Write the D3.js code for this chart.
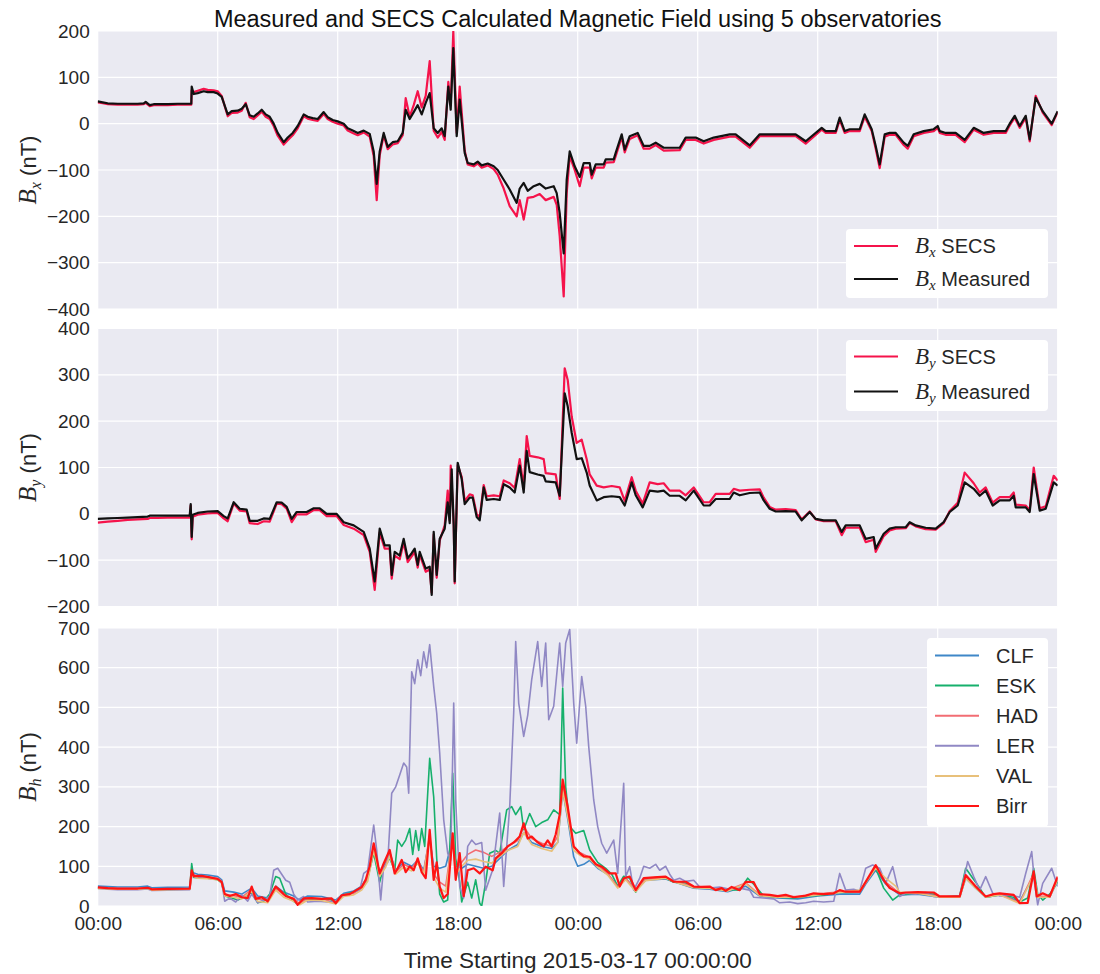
<!DOCTYPE html>
<html>
<head>
<meta charset="utf-8">
<script src="https://cdn.jsdelivr.net/npm/d3@7"></script>
<style>
  body { margin: 0; background: #fff; }
  text { font-family: "Liberation Sans", Arial, sans-serif; fill: #262626; }
</style>
</head>
<body>
<div id="plot"></div>
<script>
// [hour since 2015-03-17 00:00, nT]
let bxSecs = [[0,46],[0.25,44],[0.5,42],[1,41],[1.5,41],[2,41],[2.3,42],[2.4,45],[2.6,38],[2.8,40],[3.5,40],[4,41],[4.68,41],[4.7,72],[4.8,68],[5.0,71],[5.3,75],[5.5,73],[5.8,72],[6.0,70],[6.2,60],[6.5,16],[6.7,23],[7.0,24],[7.2,28],[7.4,45],[7.6,14],[7.8,10],[8.0,18],[8.2,26],[8.4,15],[8.6,10],[8.8,-5],[9.0,-26],[9.3,-45],[9.5,-36],[9.75,-25],[10.0,-10],[10.3,16],[10.5,11],[10.75,8],[11.0,6],[11.3,21],[11.5,10],[11.75,4],[12.0,0],[12.3,-4],[12.5,-15],[12.75,-20],[13.0,-25],[13.3,-19],[13.6,-28],[13.8,-70],[13.95,-165],[14.1,-68],[14.3,-25],[14.5,-55],[14.75,-45],[15.0,-42],[15.25,-25],[15.4,55],[15.6,15],[15.8,40],[16.0,70],[16.2,35],[16.4,60],[16.6,135],[16.8,-15],[17.0,-30],[17.2,-18],[17.35,-35],[17.53,90],[17.65,40],[17.78,199],[17.95,-20],[18.1,80],[18.35,-58],[18.5,-88],[18.8,-92],[19.0,-86],[19.2,-95],[19.5,-90],[19.8,-98],[20.0,-110],[20.3,-140],[20.6,-178],[20.95,-200],[21.1,-165],[21.3,-207],[21.5,-160],[21.8,-158],[22.1,-152],[22.4,-165],[22.8,-158],[22.95,-175],[23.1,-243],[23.3,-373],[23.45,-150],[23.6,-70],[23.85,-100],[24.1,-135],[24.3,-95],[24.6,-95],[24.7,-118],[24.9,-95],[25.3,-95],[25.4,-84],[25.8,-83],[25.9,-70],[26.2,-29],[26.35,-62],[26.6,-33],[27.0,-25],[27.3,-54],[27.6,-54],[27.9,-46],[28.3,-58],[29.1,-57],[29.4,-35],[29.9,-35],[30.3,-43],[30.8,-35],[31.6,-28],[31.9,-28],[32.6,-52],[33.1,-27],[34.4,-27],[34.9,-27],[35.4,-43],[36.2,-13],[36.4,-20],[36.9,-20],[37.1,8],[37.35,-20],[37.6,-16],[38.1,-16],[38.35,15],[38.7,-16],[38.9,-54],[39.1,-96],[39.35,-28],[39.6,-24],[39.9,-24],[40.3,-46],[40.5,-54],[40.8,-27],[41.3,-20],[41.8,-16],[42.0,-9],[42.1,-20],[42.4,-24],[42.9,-24],[43.35,-40],[43.8,-13],[44.3,-24],[44.8,-20],[45.4,-20],[45.6,-4],[45.85,13],[46.1,-9],[46.4,13],[46.6,-38],[46.9,60],[47.25,24],[47.7,-3],[48,25]]

let bxMeas = [[0,48],[0.25,46],[0.5,44],[1,43],[1.5,43],[2,43],[2.3,44],[2.4,47],[2.6,40],[2.8,42],[3.5,42],[4,43],[4.68,43],[4.7,80],[4.8,64],[5.0,66],[5.3,70],[5.5,68],[5.8,68],[6.0,65],[6.2,58],[6.5,20],[6.7,27],[7.0,28],[7.2,32],[7.4,42],[7.6,18],[7.8,15],[8.0,22],[8.2,30],[8.4,20],[8.6,15],[8.8,0],[9.0,-20],[9.3,-40],[9.5,-30],[9.75,-20],[10.0,-5],[10.3,20],[10.5,15],[10.75,12],[11.0,10],[11.3,25],[11.5,14],[11.75,8],[12.0,5],[12.3,0],[12.5,-10],[12.75,-15],[13.0,-20],[13.3,-15],[13.6,-22],[13.8,-60],[13.95,-130],[14.1,-60],[14.3,-20],[14.5,-50],[14.75,-40],[15.0,-38],[15.25,-20],[15.4,30],[15.6,10],[15.8,25],[16.0,40],[16.2,20],[16.4,45],[16.6,66],[16.8,-10],[17.0,-20],[17.2,-10],[17.35,-27],[17.53,80],[17.65,30],[17.78,163],[17.95,-27],[18.1,52],[18.35,-63],[18.5,-85],[18.8,-88],[19.0,-82],[19.2,-90],[19.5,-86],[19.8,-92],[20.0,-100],[20.3,-121],[20.6,-142],[20.95,-171],[21.1,-140],[21.3,-128],[21.5,-145],[21.8,-135],[22.1,-130],[22.4,-140],[22.8,-135],[22.95,-150],[23.1,-193],[23.3,-280],[23.45,-121],[23.6,-60],[23.85,-92],[24.1,-115],[24.3,-85],[24.6,-85],[24.7,-110],[24.9,-88],[25.3,-88],[25.4,-77],[25.8,-77],[25.9,-63],[26.2,-23],[26.35,-56],[26.6,-27],[27.0,-20],[27.3,-48],[27.6,-48],[27.9,-41],[28.3,-52],[29.1,-52],[29.4,-30],[29.9,-30],[30.3,-38],[30.8,-30],[31.6,-23],[31.9,-23],[32.6,-47],[33.1,-23],[34.4,-23],[34.9,-23],[35.4,-38],[36.2,-9],[36.4,-16],[36.9,-16],[37.1,13],[37.35,-16],[37.6,-12],[38.1,-12],[38.35,20],[38.7,-12],[38.9,-48],[39.1,-88],[39.35,-23],[39.6,-20],[39.9,-20],[40.3,-41],[40.5,-48],[40.8,-23],[41.3,-16],[41.8,-12],[42.0,-5],[42.1,-16],[42.4,-20],[42.9,-20],[43.35,-35],[43.8,-9],[44.3,-20],[44.8,-16],[45.4,-16],[45.6,0],[45.85,17],[46.1,-5],[46.4,17],[46.6,-34],[46.9,56],[47.25,27],[47.7,0],[48,27]]

let bySecs = [[0,-19],[0.5,-17],[1,-15],[1.5,-13],[2,-12],[2.5,-11],[2.6,-9],[3,-9],[3.5,-8],[4,-8],[4.6,-8],[4.65,18],[4.7,-55],[4.75,-6],[5,-2],[5.5,1],[6,2],[6.3,-10],[6.5,-16],[6.8,22],[7.1,7],[7.45,5],[7.6,-20],[8,-22],[8.3,-16],[8.6,-17],[8.95,22],[9.2,21],[9.45,11],[9.7,-18],[9.95,-1],[10.45,-1],[10.8,8],[11.1,8],[11.45,-5],[11.95,-5],[12.3,-24],[12.8,-32],[13.3,-46],[13.6,-82],[13.85,-164],[14.1,-40],[14.35,-75],[14.6,-75],[14.7,-140],[14.85,-90],[15.1,-98],[15.3,-62],[15.5,-104],[15.7,-92],[15.85,-82],[16.0,-116],[16.1,-88],[16.4,-125],[16.6,-120],[16.7,-170],[16.8,-45],[16.95,-138],[17.1,-58],[17.35,-25],[17.5,50],[17.6,-15],[17.65,104],[17.8,-20],[17.85,-150],[18.0,105],[18.2,80],[18.35,28],[18.6,42],[18.75,40],[18.95,0],[19.1,-8],[19.3,62],[19.45,38],[19.8,40],[20.1,38],[20.3,72],[20.6,66],[20.85,56],[21.1,118],[21.3,58],[21.45,168],[21.6,125],[22.0,122],[22.3,118],[22.4,88],[22.9,85],[23.1,32],[23.35,314],[23.5,289],[23.7,210],[23.95,153],[24.2,160],[24.45,118],[24.6,85],[24.95,61],[25.3,57],[25.7,60],[26.1,57],[26.35,28],[26.7,79],[26.9,50],[27.25,22],[27.6,68],[28.0,64],[28.3,66],[28.6,50],[29.1,50],[29.4,40],[29.8,57],[30.3,25],[30.6,25],[30.9,43],[31.6,43],[31.8,54],[32.1,50],[32.6,52],[33.1,53],[33.3,35],[33.6,15],[33.9,9],[34.4,10],[34.9,8],[35.2,-12],[35.6,5],[35.9,-12],[36.3,-16],[36.9,-16],[37.2,-46],[37.4,-30],[38.1,-30],[38.4,-61],[38.8,-56],[38.9,-82],[39.3,-48],[39.6,-36],[39.9,-32],[40.4,-31],[40.6,-20],[40.9,-27],[41.4,-33],[41.9,-34],[42.3,-20],[42.6,6],[43.0,24],[43.35,89],[43.8,66],[44.1,46],[44.4,57],[44.75,24],[45.1,36],[45.6,36],[45.8,46],[45.9,20],[46.4,18],[46.6,8],[46.8,100],[47.1,12],[47.4,16],[47.8,82],[48,72]]

let byMeas = [[0,-11],[0.5,-10],[1,-9],[1.5,-8],[2,-7],[2.5,-6],[2.6,-4],[3,-4],[3.5,-4],[4,-4],[4.6,-4],[4.65,21],[4.7,-50],[4.75,-2],[5,2],[5.5,5],[6,6],[6.3,-5],[6.5,-10],[6.8,25],[7.1,11],[7.45,9],[7.6,-15],[8,-15],[8.3,-10],[8.6,-11],[8.95,25],[9.2,24],[9.45,15],[9.7,-11],[9.95,4],[10.45,4],[10.8,12],[11.1,12],[11.45,0],[11.95,0],[12.3,-18],[12.8,-25],[13.3,-39],[13.6,-75],[13.85,-146],[14.1,-32],[14.35,-68],[14.6,-68],[14.7,-132],[14.85,-82],[15.1,-90],[15.3,-54],[15.5,-96],[15.7,-85],[15.85,-75],[16.0,-110],[16.1,-82],[16.4,-118],[16.6,-114],[16.7,-175],[16.8,-39],[16.95,-132],[17.1,-54],[17.35,-32],[17.5,25],[17.6,-20],[17.7,96],[17.8,-25],[17.85,-146],[18.0,110],[18.2,75],[18.35,21],[18.6,35],[18.75,35],[18.95,-7],[19.1,-14],[19.3,57],[19.45,30],[19.8,32],[20.1,30],[20.3,64],[20.6,57],[20.85,46],[21.1,104],[21.3,46],[21.45,136],[21.6,90],[22.0,85],[22.3,82],[22.4,70],[22.9,68],[23.1,39],[23.35,260],[23.5,232],[23.7,175],[23.95,118],[24.2,120],[24.45,89],[24.6,61],[24.95,29],[25.3,36],[25.7,38],[26.1,36],[26.35,18],[26.7,68],[26.9,40],[27.25,14],[27.6,50],[28.0,48],[28.3,50],[28.6,39],[29.1,39],[29.4,29],[29.8,50],[30.3,18],[30.6,18],[30.9,32],[31.6,32],[31.8,46],[32.1,40],[32.6,45],[33.1,46],[33.3,29],[33.6,11],[33.9,5],[34.4,6],[34.9,5],[35.2,-14],[35.6,4],[35.9,-11],[36.3,-14],[36.9,-14],[37.2,-39],[37.4,-25],[38.1,-25],[38.4,-54],[38.8,-50],[38.9,-75],[39.3,-43],[39.6,-32],[39.9,-29],[40.4,-29],[40.6,-18],[40.9,-25],[41.4,-30],[41.9,-32],[42.3,-18],[42.6,4],[43.0,18],[43.35,68],[43.8,54],[44.1,39],[44.4,50],[44.75,18],[45.1,29],[45.6,29],[45.8,39],[45.9,14],[46.4,14],[46.6,4],[46.8,86],[47.1,7],[47.4,11],[47.8,68],[48,61]]

let clf = [[0,50],[1,48],[2,48],[2.5,50],[2.7,46],[3.5,47],[4.6,48],[4.7,85],[5.0,80],[5.5,78],[6.0,74],[6.2,66],[6.35,38],[6.8,35],[7.2,30],[7.7,45],[8.0,25],[8.5,20],[8.9,50],[9.3,35],[9.8,25],[10.1,15],[10.5,25],[11.2,24],[11.9,15],[12.3,32],[12.8,38],[13.2,50],[13.5,75],[13.8,140],[14.1,85],[14.4,110],[14.6,135],[14.9,90],[15.3,110],[15.7,100],[16.0,115],[16.3,90],[16.6,170],[16.8,100],[17.1,95],[17.4,100],[17.75,170],[17.9,100],[18.2,95],[18.5,105],[18.9,100],[19.3,95],[19.7,100],[20.1,120],[20.5,140],[21.0,155],[21.3,185],[21.7,160],[22.2,150],[22.7,145],[23.0,160],[23.25,290],[23.5,220],[23.8,124],[24.0,100],[24.3,105],[24.6,115],[25.0,95],[25.5,80],[26.0,50],[26.4,70],[26.9,40],[27.4,65],[28.4,68],[29.0,58],[29.8,45],[30.6,42],[31.5,36],[32.4,50],[33.1,25],[34.0,20],[35.0,18],[36.0,25],[37.1,30],[38.1,30],[38.4,55],[38.9,90],[39.4,55],[40.1,28],[41.0,30],[42.1,22],[43.1,22],[43.4,70],[43.9,45],[44.4,22],[45.1,28],[46.1,12],[46.8,75],[47.0,22],[47.6,22],[48,65]]

let esk = [[0,46],[1,43],[2,43],[2.5,45],[2.7,41],[3.5,42],[4.6,43],[4.7,107],[4.8,72],[5.5,70],[6.0,66],[6.2,58],[6.35,25],[6.7,20],[7.0,15],[7.3,22],[7.7,35],[8.0,8],[8.3,12],[8.6,30],[8.9,74],[9.1,70],[9.4,30],[9.8,12],[10.0,5],[10.4,18],[11.0,17],[11.6,18],[11.9,6],[12.3,28],[12.8,35],[13.2,45],[13.5,70],[13.8,133],[14.1,60],[14.3,100],[14.6,120],[14.85,90],[15.0,166],[15.2,150],[15.4,166],[15.6,195],[15.75,130],[15.9,190],[16.05,140],[16.2,195],[16.35,150],[16.6,372],[16.8,275],[16.95,120],[17.1,30],[17.3,10],[17.5,15],[17.75,334],[17.9,120],[18.1,60],[18.2,10],[18.5,60],[18.7,20],[18.9,66],[19.1,7],[19.2,0],[19.4,60],[19.6,133],[19.9,140],[20.1,133],[20.45,242],[20.7,250],[20.9,230],[21.15,250],[21.3,192],[21.6,233],[21.9,200],[22.2,210],[22.5,217],[22.8,242],[23.1,230],[23.25,549],[23.4,300],[23.6,200],[23.9,183],[24.3,190],[24.6,141],[25.0,110],[25.4,95],[25.7,80],[26.0,50],[26.3,75],[26.6,70],[26.9,35],[27.3,68],[28.0,72],[28.4,70],[28.8,60],[29.4,58],[29.8,48],[30.5,46],[31.2,42],[32.1,40],[32.5,70],[32.8,55],[33.3,25],[34.0,22],[34.8,20],[35.4,24],[36.3,28],[37.1,35],[37.6,34],[38.1,35],[38.4,60],[38.9,95],[39.3,45],[39.75,15],[40.1,28],[41.0,32],[41.8,30],[42.1,22],[43.1,26],[43.4,95],[43.9,60],[44.4,22],[45.1,28],[45.8,22],[46.1,10],[46.5,20],[46.8,95],[47.0,30],[47.25,15],[47.6,30],[48,60]]

let had = [[0,46],[1,44],[2,44],[2.5,46],[2.7,42],[3.5,43],[4.6,44],[4.7,82],[5.0,74],[5.5,73],[6.0,70],[6.2,62],[6.35,30],[6.8,26],[7.2,22],[7.7,42],[8.0,18],[8.5,14],[8.9,45],[9.3,28],[9.8,18],[10.1,6],[10.5,20],[11.2,18],[11.9,8],[12.3,28],[12.8,32],[13.2,45],[13.5,70],[13.8,150],[14.1,80],[14.4,105],[14.6,135],[14.9,85],[15.3,105],[15.7,95],[16.0,115],[16.3,85],[16.6,180],[16.8,80],[17.1,60],[17.4,50],[17.75,175],[17.9,90],[18.2,110],[18.5,130],[18.9,141],[19.3,135],[19.7,125],[20.1,135],[20.5,150],[21.0,165],[21.3,200],[21.7,170],[22.2,158],[22.7,150],[23.0,175],[23.25,305],[23.5,240],[23.8,150],[24.1,135],[24.6,122],[25.0,102],[25.5,82],[26.0,48],[26.4,70],[26.9,40],[27.4,68],[28.4,72],[29.0,60],[29.8,48],[30.6,46],[31.5,40],[32.4,58],[33.1,28],[34.0,24],[35.0,24],[36.0,30],[37.1,36],[38.1,35],[38.4,58],[38.9,98],[39.4,60],[40.1,32],[41.0,34],[42.1,24],[43.1,24],[43.4,75],[43.9,48],[44.4,24],[45.1,30],[46.1,8],[46.8,82],[47.0,25],[47.6,24],[48,70]]

let ler = [[0,44],[0.5,42],[1,41],[1.5,41],[2,41],[2.5,43],[2.7,39],[3.5,40],[4.6,41],[4.7,75],[5,72],[5.5,70],[6,68],[6.2,60],[6.35,12],[6.6,20],[6.9,10],[7.2,28],[7.5,12],[7.7,30],[8.0,8],[8.3,15],[8.6,25],[8.8,90],[9.0,95],[9.2,80],[9.4,65],[9.6,60],[9.8,30],[10.0,15],[10.3,24],[10.5,10],[11.0,12],[11.5,10],[11.9,12],[12.1,22],[12.5,28],[12.8,35],[13.1,40],[13.3,82],[13.5,90],[13.8,204],[13.95,141],[14.15,15],[14.3,100],[14.5,110],[14.7,284],[14.9,300],[15.1,330],[15.3,360],[15.45,350],[15.55,284],[15.7,590],[15.85,560],[16.0,620],[16.15,580],[16.3,640],[16.45,600],[16.6,658],[16.8,553],[16.95,486],[17.1,385],[17.3,217],[17.5,133],[17.65,116],[17.8,511],[17.9,267],[18.1,49],[18.3,20],[18.5,150],[18.7,166],[18.9,155],[19.2,160],[19.4,40],[19.75,91],[20.1,234],[20.3,49],[20.6,250],[20.8,486],[20.9,666],[21.05,511],[21.3,427],[21.5,480],[21.7,570],[22.0,666],[22.2,553],[22.4,662],[22.55,469],[22.8,503],[23.1,662],[23.25,553],[23.4,662],[23.6,696],[23.8,511],[23.95,410],[24.2,578],[24.4,503],[24.55,402],[24.8,267],[25.0,200],[25.2,158],[25.45,133],[25.8,166],[26.0,82],[26.3,309],[26.4,74],[26.6,99],[26.8,40],[27.1,70],[27.3,100],[27.6,95],[27.9,105],[28.1,90],[28.4,100],[28.6,80],[28.8,65],[29.1,70],[29.4,62],[29.8,65],[30.1,48],[30.6,45],[31.1,48],[31.6,42],[32.1,45],[32.6,40],[32.8,22],[33.3,20],[33.8,18],[34.1,8],[34.6,10],[35.0,6],[35.4,8],[35.8,12],[36.3,10],[36.8,12],[37.1,82],[37.4,40],[37.8,42],[38.1,38],[38.4,95],[38.75,103],[39.1,95],[39.4,57],[39.75,99],[40.1,24],[40.4,32],[40.9,30],[41.4,34],[41.8,24],[42.5,22],[43.1,26],[43.3,66],[43.5,112],[43.8,74],[44.1,40],[44.4,74],[44.75,32],[45.1,25],[45.6,28],[46.1,22],[46.4,82],[46.7,137],[46.85,55],[47.0,3],[47.25,57],[47.7,95],[48,49]]

let val = [[0,44],[1,42],[2,42],[2.5,44],[2.7,40],[3.5,41],[4.6,42],[4.7,78],[5.0,70],[5.5,69],[6.0,66],[6.2,58],[6.35,25],[6.8,22],[7.2,18],[7.7,38],[8.0,12],[8.5,8],[8.9,40],[9.3,22],[9.8,12],[10.1,3],[10.5,15],[11.2,14],[11.9,5],[12.3,24],[12.8,28],[13.2,40],[13.5,62],[13.8,140],[14.1,75],[14.4,98],[14.6,125],[14.9,80],[15.3,98],[15.7,88],[16.0,108],[16.3,80],[16.6,170],[16.8,72],[17.1,45],[17.4,35],[17.75,165],[17.9,80],[18.2,100],[18.5,115],[18.9,118],[19.3,112],[19.7,108],[20.1,125],[20.5,140],[21.0,150],[21.3,185],[21.7,155],[22.2,145],[22.7,138],[23.0,160],[23.25,290],[23.5,225],[23.8,140],[24.1,128],[24.6,118],[25.0,98],[25.5,78],[26.0,45],[26.4,66],[26.9,36],[27.4,64],[28.4,70],[29.0,58],[29.8,46],[30.6,44],[31.5,38],[32.4,56],[33.1,26],[34.0,22],[35.0,22],[36.0,28],[37.1,34],[38.1,40],[38.4,60],[38.9,95],[39.4,70],[39.9,50],[40.1,35],[41.0,32],[42.1,22],[43.1,22],[43.4,70],[43.9,45],[44.4,22],[45.1,28],[46.1,6],[46.8,78],[47.0,22],[47.6,22],[48,66]]

let birr = [[0,47],[0.5,45],[1,44],[1.5,44],[2,44],[2.5,46],[2.7,42],[3.5,43],[4.6,44],[4.7,90],[4.8,75],[5.2,76],[5.6,72],[6.0,68],[6.2,60],[6.35,30],[6.6,25],[6.9,30],[7.2,22],[7.5,20],[7.7,49],[7.9,18],[8.2,22],[8.5,12],[8.9,49],[9.1,40],[9.4,25],[9.8,18],[10.0,3],[10.3,19],[10.7,20],[11.2,18],[11.7,19],[11.9,7],[12.2,27],[12.6,30],[13.0,42],[13.2,48],[13.4,66],[13.6,100],[13.8,158],[14.1,82],[14.3,107],[14.6,141],[14.85,82],[15.0,95],[15.2,116],[15.4,85],[15.6,100],[15.8,90],[16.0,120],[16.2,85],[16.4,70],[16.6,192],[16.8,66],[16.95,110],[17.1,49],[17.3,20],[17.5,30],[17.75,183],[17.9,66],[18.1,133],[18.3,25],[18.5,90],[18.8,95],[19.1,82],[19.4,99],[19.75,90],[19.9,120],[20.2,133],[20.5,150],[20.8,160],[21.1,175],[21.3,208],[21.5,170],[21.7,175],[22.0,160],[22.3,150],[22.5,165],[22.7,150],[22.9,180],[23.1,230],[23.25,318],[23.5,250],[23.8,150],[24.1,133],[24.3,125],[24.6,124],[24.9,105],[25.2,99],[25.6,82],[25.9,82],[26.1,49],[26.3,70],[26.6,74],[26.9,40],[27.3,70],[27.8,72],[28.4,74],[28.8,61],[29.4,61],[29.8,49],[30.2,48],[30.6,49],[30.9,40],[31.2,45],[31.4,38],[31.7,48],[32.1,40],[32.4,61],[32.8,60],[33.1,30],[33.6,28],[34.0,25],[34.4,28],[34.8,22],[35.4,26],[35.8,32],[36.3,30],[36.8,32],[37.1,40],[37.4,36],[38.1,36],[38.4,61],[38.9,103],[39.3,65],[39.6,45],[40.1,32],[40.4,34],[41.0,35],[41.8,34],[42.1,24],[43.1,24],[43.4,78],[43.9,49],[44.4,24],[44.8,30],[45.1,32],[45.8,28],[46.1,7],[46.5,8],[46.8,87],[46.95,24],[47.25,32],[47.6,24],[48,74]]

let bxTicks = [-400, -300, -200, -100, 0, 100, 200]
let byTicks = [-200, -100, 0, 100, 200, 300, 400]
let bhTicks = [0, 100, 200, 300, 400, 500, 600, 700]
let stations = ["CLF", "ESK", "HAD", "LER", "VAL", "Birr"]

let svgWidth = 1100
let svgHeight = 974
let margin = { left: 97.7, right: 42.3 }
let width = svgWidth - margin.left - margin.right
let panelHeight = 278

let svg = d3.select("#plot")
  .append("svg")
  .attr("width", svgWidth)
  .attr("height", svgHeight)

let t0 = Date.UTC(2015, 2, 17)
let toDate = h => new Date(t0 + h * 3600000)
let x = d3.scaleUtc().domain([toDate(0), toDate(48)]).range([0, width])
let hourTicks = x.ticks(d3.utcHour.every(6))

let red = "#f5134b"
let panels = [
  { top: 31, domain: [-400, 200], ticks: bxTicks, sub: "x",
    series: [{ data: bxSecs, color: red, w: 2.2 }, { data: bxMeas, color: "#111", w: 2.2 }],
    legend: { x: 846, y: 229, w: 202, rows: [246, 279], labels: ["SECS", "Measured"], colors: [red, "#111"] } },
  { top: 328.5, domain: [-200, 400], ticks: byTicks, sub: "y",
    series: [{ data: bySecs, color: red, w: 2.2 }, { data: byMeas, color: "#111", w: 2.2 }],
    legend: { x: 846, y: 340, w: 202, rows: [356.5, 391.5], labels: ["SECS", "Measured"], colors: [red, "#111"] } },
  { top: 628, domain: [0, 700], ticks: bhTicks, sub: "h",
    series: [
      { data: clf, color: "#3f87c8", w: 1.6 },
      { data: esk, color: "#16b06c", w: 1.6 },
      { data: had, color: "#f26d73", w: 1.6 },
      { data: ler, color: "#9088c4", w: 1.6 },
      { data: val, color: "#e8c07a", w: 1.6 },
      { data: birr, color: "#ff1414", w: 2.2 }
    ] }
]

panels.forEach(function(p, i) {
  let g = svg.append("g").attr("transform", `translate(${margin.left}, ${p.top})`)
  let y = d3.scaleLinear().domain(p.domain).range([panelHeight, 0])

  g.append("rect").attr("width", width).attr("height", panelHeight).attr("fill", "#eaeaf2")

  g.selectAll(".hgrid").data(p.ticks).enter().append("line")
    .attr("x1", 0).attr("x2", width)
    .attr("y1", d => y(d)).attr("y2", d => y(d))
    .attr("stroke", "#fff").attr("stroke-width", 1.2)

  g.selectAll(".vgrid").data(hourTicks).enter().append("line")
    .attr("x1", d => x(d)).attr("x2", d => x(d))
    .attr("y1", 0).attr("y2", panelHeight)
    .attr("stroke", "#fff").attr("stroke-width", 1.2)

  let yAxis = g.append("g")
    .call(d3.axisLeft(y).tickValues(p.ticks).tickSize(0).tickPadding(8)
      .tickFormat(d => d < 0 ? "\u2212" + Math.abs(d) : d))
  yAxis.select(".domain").remove()
  yAxis.selectAll("text").attr("font-size", 19).style("font-family", "Liberation Sans, Arial, sans-serif")

  g.append("clipPath").attr("id", "clip" + i)
    .append("rect").attr("width", width).attr("height", panelHeight)

  let line = d3.line().x(d => x(toDate(d[0]))).y(d => y(d[1]))
  g.append("g").attr("clip-path", `url(#clip${i})`)
    .selectAll("path").data(p.series).enter().append("path")
    .attr("d", s => line(s.data))
    .attr("fill", "none")
    .attr("stroke", s => s.color)
    .attr("stroke-width", s => s.w)
    .attr("stroke-linejoin", "round")

  // y label: B_sub (nT)
  let yl = svg.append("text")
    .attr("transform", `translate(36, ${p.top + panelHeight / 2}) rotate(-90)`)
    .attr("text-anchor", "middle")
  yl.append("tspan").text("B").style("font-family", "Liberation Serif, serif").attr("font-style", "italic").attr("font-size", 25)
  yl.append("tspan").text(p.sub).style("font-family", "Liberation Serif, serif").attr("font-style", "italic").attr("font-size", 16).attr("dy", 5)
  yl.append("tspan").text(" (nT)").attr("font-size", 22).attr("dy", -5)

  if (p.legend) {
    let L = p.legend
    svg.append("rect").attr("x", L.x).attr("y", L.y).attr("width", L.w)
      .attr("height", L.rows[1] - L.rows[0] + 36).attr("rx", 4).attr("fill", "#fff")
    L.rows.forEach(function(ry, k) {
      svg.append("line").attr("x1", L.x + 8).attr("x2", L.x + 52).attr("y1", ry).attr("y2", ry)
        .attr("stroke", L.colors[k]).attr("stroke-width", 2)
      let t = svg.append("text").attr("x", L.x + 69).attr("y", ry + 7)
      t.append("tspan").text("B").style("font-family", "Liberation Serif, serif").attr("font-style", "italic").attr("font-size", 23)
      t.append("tspan").text(p.sub).style("font-family", "Liberation Serif, serif").attr("font-style", "italic").attr("font-size", 15).attr("dy", 4)
      t.append("tspan").text(" " + L.labels[k]).attr("font-size", 20).attr("dy", -4)
    })
  }

  if (i === 2) {
    let xAxis = g.append("g").attr("transform", `translate(0, ${panelHeight})`)
      .call(d3.axisBottom(x).tickValues(hourTicks).tickSize(0).tickPadding(11).tickFormat(d3.utcFormat("%H:%M")))
    xAxis.select(".domain").remove()
    xAxis.selectAll("text").attr("font-size", 19).style("font-family", "Liberation Sans, Arial, sans-serif")

    let lg = svg.append("g")
    lg.append("rect").attr("x", 927).attr("y", 638).attr("width", 121).attr("height", 189).attr("rx", 4).attr("fill", "#fff")
    lg.selectAll(".lline").data(stations).enter().append("line")
      .attr("x1", 935).attr("x2", 979)
      .attr("y1", (d, k) => 655.5 + k * 30.1).attr("y2", (d, k) => 655.5 + k * 30.1)
      .attr("stroke", (d, k) => p.series[k].color).attr("stroke-width", 2)
    lg.selectAll(".ltext").data(stations).enter().append("text")
      .attr("x", 996).attr("y", (d, k) => 655.5 + k * 30.1 + 7)
      .attr("font-size", 20)
      .text(d => d)
  }
})

svg.append("text")
  .attr("x", margin.left + width / 2).attr("y", 27)
  .attr("text-anchor", "middle").attr("font-size", 23.5)
  .style("fill", "#111")
  .text("Measured and SECS Calculated Magnetic Field using 5 observatories")

svg.append("text")
  .attr("x", margin.left + width / 2).attr("y", 968)
  .attr("text-anchor", "middle").attr("font-size", 22.5)
  .text("Time Starting 2015-03-17 00:00:00")
</script>
</body>
</html>
